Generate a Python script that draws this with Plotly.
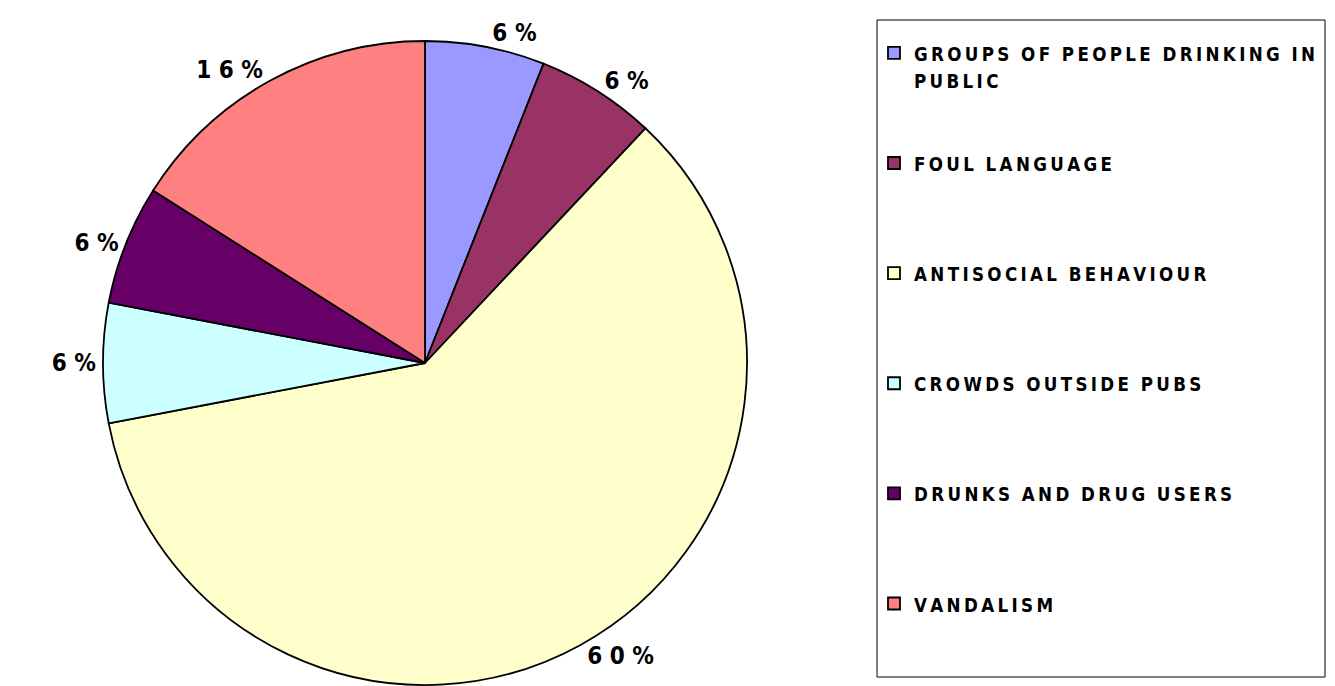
import plotly.graph_objects as go

categories = [
    "GROUPS OF PEOPLE DRINKING IN|PUBLIC",
    "FOUL LANGUAGE",
    "ANTISOCIAL BEHAVIOUR",
    "CROWDS OUTSIDE PUBS",
    "DRUNKS AND DRUG USERS",
    "VANDALISM",
]
values = [6, 6, 60, 6, 6, 16]
colors = ["#9999FF", "#993366", "#FFFFCC", "#CCFFFF", "#660066", "#FF8080"]

W, H = 1335, 686
FONT = "Liberation Sans Narrow, Arial Narrow, DejaVu Sans Condensed, DejaVu Sans, sans-serif"

LETTER_GAP = "\u2009"
WORD_GAP = "\u2009\u2002"


def spaced(s):
    words = s.split(" ")
    return WORD_GAP.join(LETTER_GAP.join(w) for w in words)


def legend_label(s, total_lines=4):
    lines = ['<span style="font-size:18.6px">' + spaced(p) + "</span>" for p in s.split("|")]
    while len(lines) < total_lines:
        lines.append("\u00a0")
    return "<br>".join(lines)


labels = [legend_label(c) for c in categories]
texts = [" ".join(str(v)) + " %" for v in values]

# pie placement (pixels)
cx, cy, r = 425, 363, 322
fig = go.Figure(
    go.Pie(
        labels=labels,
        values=values,
        text=texts,
        textinfo="text",
        textposition="outside",
        sort=False,
        direction="clockwise",
        rotation=0,
        marker=dict(colors=colors, line=dict(color="black", width=1.8)),
        textfont=dict(family=FONT, size=24, color="black", weight="bold"),
        domain=dict(x=[(cx - r) / W, (cx + r) / W], y=[1 - (cy + r) / H, 1 - (cy - r) / H]),
        hoverinfo="skip",
    )
)

fig.update_layout(
    width=W,
    height=H,
    margin=dict(l=0, r=0, t=0, b=0, autoexpand=False),
    paper_bgcolor="white",
    plot_bgcolor="white",
    showlegend=True,
    legend=dict(
        x=874 / W,
        y=1 - 33 / H,
        xanchor="left",
        yanchor="top",
        valign="top",
        font=dict(family=FONT, size=20.6, color="black", weight="bold"),
        bgcolor="rgba(0,0,0,0)",
        borderwidth=0,
        traceorder="normal",
    ),
    shapes=[
        dict(
            type="rect", xref="paper", yref="paper",
            x0=877 / W, x1=1325 / W, y0=1 - 677 / H, y1=1 - 20 / H,
            line=dict(color="black", width=1), fillcolor="rgba(0,0,0,0)",
            layer="below",
        )
    ],
)

fig.write_html(
    "out.html",
    config={"displayModeBar": False},
    post_script="document.body.style.margin='0px';document.body.style.overflow='hidden';",
)
